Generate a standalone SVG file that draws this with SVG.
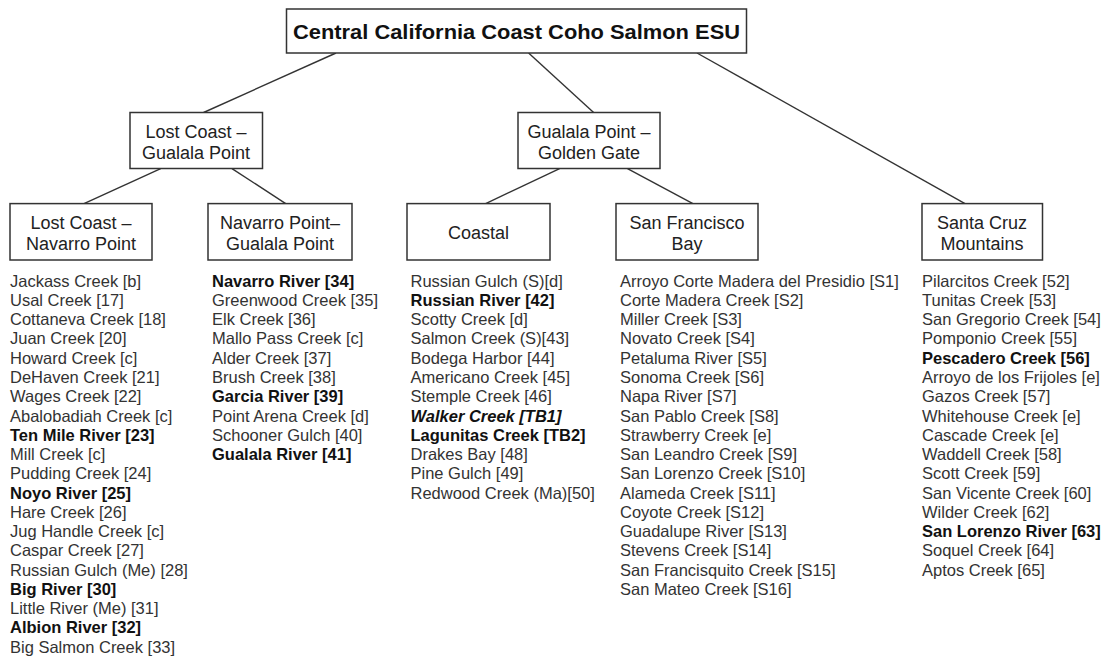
<svg xmlns="http://www.w3.org/2000/svg" width="1107" height="657" viewBox="0 0 1107 657">
<style>
  .box { fill: #ffffff; stroke: #333333; stroke-width: 1.5; }
  .conn line { stroke: #333333; stroke-width: 1.4; }
  .title { font-family: "Liberation Sans", Arial, sans-serif; font-size: 20.5px; font-weight: bold; fill: #111111; text-anchor: middle; }
  .lbl { font-family: "Liberation Sans", Arial, sans-serif; font-size: 18px; fill: #222222; text-anchor: middle; }
  .list { font-family: "Liberation Sans", Arial, sans-serif; font-size: 16.5px; fill: #333333; }
  .b { font-weight: bold; fill: #111111; }
  .bi { font-weight: bold; font-style: italic; fill: #111111; }
</style>
<rect width="1107" height="657" fill="#ffffff"/>

<g id="connectors" class="conn">
  <line x1="336" y1="53" x2="203.6" y2="112.5"/>
  <line x1="528.6" y1="53" x2="593.6" y2="112.5"/>
  <line x1="697" y1="53" x2="965" y2="203.6"/>
  <line x1="160.7" y1="168.6" x2="84" y2="203.6"/>
  <line x1="232" y1="168.6" x2="285.7" y2="203.6"/>
  <line x1="559.6" y1="168.6" x2="485.7" y2="203.6"/>
  <line x1="627.5" y1="168.6" x2="692.9" y2="203.6"/>
</g>

<g id="root">
  <rect class="box" x="286.5" y="9" width="460" height="44"/>
  <text class="title" x="516.5" y="39" textLength="447" lengthAdjust="spacingAndGlyphs">Central California Coast Coho Salmon ESU</text>
</g>

<g id="lost-coast-gualala">
  <rect class="box" x="130" y="112.5" width="132.5" height="56"/>
  <text class="lbl" x="196" y="137.5">Lost Coast –</text>
  <text class="lbl" x="196" y="159">Gualala Point</text>
</g>

<g id="gualala-golden">
  <rect class="box" x="518" y="112.5" width="142" height="56"/>
  <text class="lbl" x="589" y="137.5">Gualala Point –</text>
  <text class="lbl" x="589" y="159">Golden Gate</text>
</g>

<g id="lost-coast-navarro">
  <rect class="box" x="10" y="203.6" width="142" height="56.4"/>
  <text class="lbl" x="81" y="228.6">Lost Coast –</text>
  <text class="lbl" x="81" y="250">Navarro Point</text>
</g>

<g id="navarro-gualala">
  <rect class="box" x="208" y="203.6" width="144" height="56.4"/>
  <text class="lbl" x="280" y="228.6">Navarro Point–</text>
  <text class="lbl" x="280" y="250">Gualala Point</text>
</g>

<g id="coastal">
  <rect class="box" x="407" y="203.6" width="143" height="56.4"/>
  <text class="lbl" x="478.5" y="239.3">Coastal</text>
</g>

<g id="sf-bay">
  <rect class="box" x="616" y="203.6" width="142" height="56.4"/>
  <text class="lbl" x="687" y="228.6">San Francisco</text>
  <text class="lbl" x="687" y="250">Bay</text>
</g>

<g id="santa-cruz">
  <rect class="box" x="922" y="203.6" width="120.5" height="56.4"/>
  <text class="lbl" x="982" y="228.6">Santa Cruz</text>
  <text class="lbl" x="982" y="250">Mountains</text>
</g>

<g id="list-lost-coast-navarro">
  <text class="list" x="10" y="286.7">
    <tspan x="10" dy="0">Jackass Creek [b]</tspan>
    <tspan x="10" dy="19.26">Usal Creek [17]</tspan>
    <tspan x="10" dy="19.26">Cottaneva Creek [18]</tspan>
    <tspan x="10" dy="19.26">Juan Creek [20]</tspan>
    <tspan x="10" dy="19.26">Howard Creek [c]</tspan>
    <tspan x="10" dy="19.26">DeHaven Creek [21]</tspan>
    <tspan x="10" dy="19.26">Wages Creek [22]</tspan>
    <tspan x="10" dy="19.26">Abalobadiah Creek [c]</tspan>
    <tspan x="10" dy="19.26" class="b">Ten Mile River [23]</tspan>
    <tspan x="10" dy="19.26">Mill Creek [c]</tspan>
    <tspan x="10" dy="19.26">Pudding Creek [24]</tspan>
    <tspan x="10" dy="19.26" class="b">Noyo River [25]</tspan>
    <tspan x="10" dy="19.26">Hare Creek [26]</tspan>
    <tspan x="10" dy="19.26">Jug Handle Creek [c]</tspan>
    <tspan x="10" dy="19.26">Caspar Creek [27]</tspan>
    <tspan x="10" dy="19.26">Russian Gulch (Me) [28]</tspan>
    <tspan x="10" dy="19.26" class="b">Big River [30]</tspan>
    <tspan x="10" dy="19.26">Little River (Me) [31]</tspan>
    <tspan x="10" dy="19.26" class="b">Albion River [32]</tspan>
    <tspan x="10" dy="19.26">Big Salmon Creek [33]</tspan>
  </text>
</g>

<g id="list-navarro-gualala">
  <text class="list" x="212" y="286.7">
    <tspan x="212" dy="0" class="b">Navarro River [34]</tspan>
    <tspan x="212" dy="19.26">Greenwood Creek [35]</tspan>
    <tspan x="212" dy="19.26">Elk Creek [36]</tspan>
    <tspan x="212" dy="19.26">Mallo Pass Creek [c]</tspan>
    <tspan x="212" dy="19.26">Alder Creek [37]</tspan>
    <tspan x="212" dy="19.26">Brush Creek [38]</tspan>
    <tspan x="212" dy="19.26" class="b">Garcia River [39]</tspan>
    <tspan x="212" dy="19.26">Point Arena Creek [d]</tspan>
    <tspan x="212" dy="19.26">Schooner Gulch [40]</tspan>
    <tspan x="212" dy="19.26" class="b">Gualala River [41]</tspan>
  </text>
</g>

<g id="list-coastal">
  <text class="list" x="410.5" y="286.7">
    <tspan x="410.5" dy="0">Russian Gulch (S)[d]</tspan>
    <tspan x="410.5" dy="19.26" class="b">Russian River [42]</tspan>
    <tspan x="410.5" dy="19.26">Scotty Creek [d]</tspan>
    <tspan x="410.5" dy="19.26">Salmon Creek (S)[43]</tspan>
    <tspan x="410.5" dy="19.26">Bodega Harbor [44]</tspan>
    <tspan x="410.5" dy="19.26">Americano Creek [45]</tspan>
    <tspan x="410.5" dy="19.26">Stemple Creek [46]</tspan>
    <tspan x="410.5" dy="19.26" class="bi">Walker Creek [TB1]</tspan>
    <tspan x="410.5" dy="19.26" class="b">Lagunitas Creek [TB2]</tspan>
    <tspan x="410.5" dy="19.26">Drakes Bay [48]</tspan>
    <tspan x="410.5" dy="19.26">Pine Gulch [49]</tspan>
    <tspan x="410.5" dy="19.26">Redwood Creek (Ma)[50]</tspan>
  </text>
</g>

<g id="list-sf-bay">
  <text class="list" x="620" y="286.7">
    <tspan x="620" dy="0">Arroyo Corte Madera del Presidio [S1]</tspan>
    <tspan x="620" dy="19.26">Corte Madera Creek [S2]</tspan>
    <tspan x="620" dy="19.26">Miller Creek [S3]</tspan>
    <tspan x="620" dy="19.26">Novato Creek [S4]</tspan>
    <tspan x="620" dy="19.26">Petaluma River [S5]</tspan>
    <tspan x="620" dy="19.26">Sonoma Creek [S6]</tspan>
    <tspan x="620" dy="19.26">Napa River [S7]</tspan>
    <tspan x="620" dy="19.26">San Pablo Creek [S8]</tspan>
    <tspan x="620" dy="19.26">Strawberry Creek [e]</tspan>
    <tspan x="620" dy="19.26">San Leandro Creek [S9]</tspan>
    <tspan x="620" dy="19.26">San Lorenzo Creek [S10]</tspan>
    <tspan x="620" dy="19.26">Alameda Creek [S11]</tspan>
    <tspan x="620" dy="19.26">Coyote Creek [S12]</tspan>
    <tspan x="620" dy="19.26">Guadalupe River [S13]</tspan>
    <tspan x="620" dy="19.26">Stevens Creek [S14]</tspan>
    <tspan x="620" dy="19.26">San Francisquito Creek [S15]</tspan>
    <tspan x="620" dy="19.26">San Mateo Creek [S16]</tspan>
  </text>
</g>

<g id="list-santa-cruz">
  <text class="list" x="922" y="286.7">
    <tspan x="922" dy="0">Pilarcitos Creek [52]</tspan>
    <tspan x="922" dy="19.26">Tunitas Creek [53]</tspan>
    <tspan x="922" dy="19.26">San Gregorio Creek [54]</tspan>
    <tspan x="922" dy="19.26">Pomponio Creek [55]</tspan>
    <tspan x="922" dy="19.26" class="b">Pescadero Creek [56]</tspan>
    <tspan x="922" dy="19.26">Arroyo de los Frijoles [e]</tspan>
    <tspan x="922" dy="19.26">Gazos Creek [57]</tspan>
    <tspan x="922" dy="19.26">Whitehouse Creek [e]</tspan>
    <tspan x="922" dy="19.26">Cascade Creek [e]</tspan>
    <tspan x="922" dy="19.26">Waddell Creek [58]</tspan>
    <tspan x="922" dy="19.26">Scott Creek [59]</tspan>
    <tspan x="922" dy="19.26">San Vicente Creek [60]</tspan>
    <tspan x="922" dy="19.26">Wilder Creek [62]</tspan>
    <tspan x="922" dy="19.26" class="b">San Lorenzo River [63]</tspan>
    <tspan x="922" dy="19.26">Soquel Creek [64]</tspan>
    <tspan x="922" dy="19.26">Aptos Creek [65]</tspan>
  </text>
</g>
</svg>
